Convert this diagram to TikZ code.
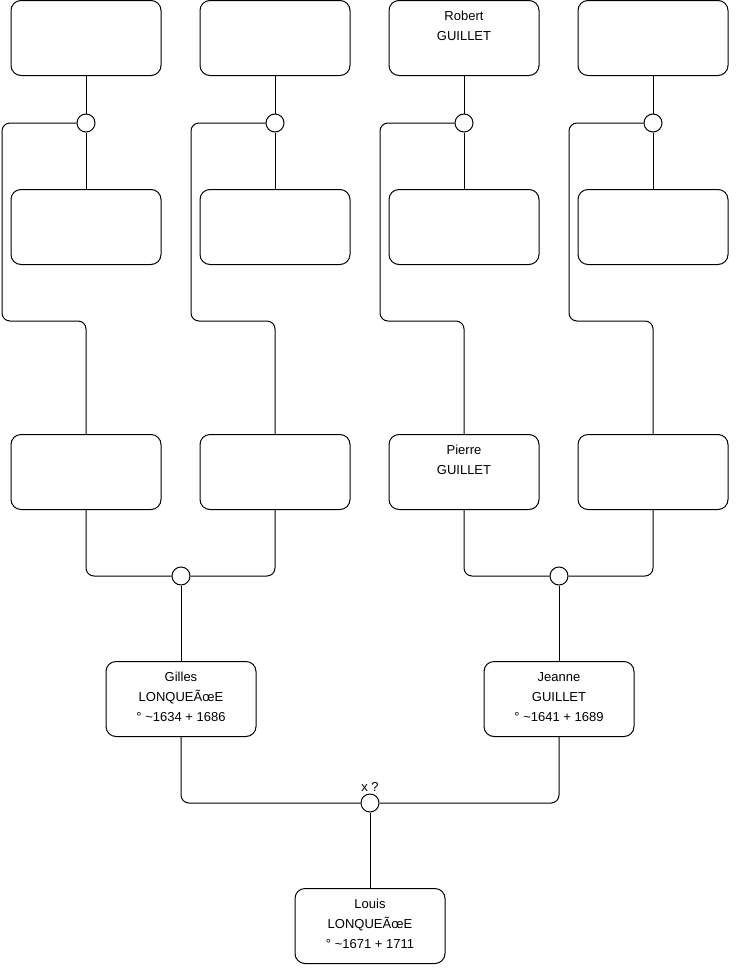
\documentclass[tikz,border=0pt]{standalone}
\usepackage{fontspec}
\setmainfont{Liberation Sans}
\usetikzlibrary{positioning}

\begin{document}
\begin{tikzpicture}[x=1pt,y=-1pt,line width=1pt,
  every node/.style={font=\fontsize{13}{20}\selectfont},
  person/.style={draw,rounded corners=10pt,minimum width=150pt,minimum height=75pt,inner sep=0pt},
  who/.style={label={[anchor=north,align=center,inner sep=0pt,yshift=-11pt]north:#1}},
  union/.style={draw,circle,fill=white,minimum size=18pt,inner sep=0pt},
  link/.style={rounded corners=8pt}]
\useasboundingbox (0,0) rectangle (740,975);
% great-grandparents, fathers and mothers
\node[person] (ggf1) at (86,38) {};
\node[person] (ggf2) at (275,38) {};
\node[person,who={Robert\\GUILLET}] (ggf3) at (464,38) {};
\node[person] (ggf4) at (653,38) {};
\node[person] (ggm1) at (86,227) {};
\node[person] (ggm2) at (275,227) {};
\node[person] (ggm3) at (464,227) {};
\node[person] (ggm4) at (653,227) {};
\node[union] (u1) at (86,123) {};
\node[union] (u2) at (275,123) {};
\node[union] (u3) at (464,123) {};
\node[union] (u4) at (653,123) {};
% grandparents
\node[person] (gp1) at (86,472) {};
\node[person] (gp2) at (275,472) {};
\node[person,who={Pierre\\GUILLET}] (gp3) at (464,472) {};
\node[person] (gp4) at (653,472) {};
\node[union] (uF) at (181,576) {};
\node[union] (uM) at (559,576) {};
% parents and child
\node[person,who={Gilles\\LONQUEÃœE\\° \textasciitilde1634 + 1686}] (gil) at (181,699) {};
\node[person,who={Jeanne\\GUILLET\\° \textasciitilde1641 + 1689}] (jea) at (559,699) {};
\node[union,label={[inner sep=2pt]above:x ?}] (uL) at (370,803) {};
\node[person,who={Louis\\LONQUEÃœE\\° \textasciitilde1671 + 1711}] (lou) at (370,926) {};
% couples
\foreach \i in {1,...,4}{
  \draw (ggf\i) -- (u\i) -- (ggm\i);
  \path (u\i) ++(-84,198) coordinate (s\i);
  \draw[link] (u\i.west) -| (s\i) -| (gp\i.north);
}
\draw[link] (gp1.south) |- (uF.west);
\draw[link] (gp2.south) |- (uF.east);
\draw[link] (gp3.south) |- (uM.west);
\draw[link] (gp4.south) |- (uM.east);
\draw (uF) -- (gil);
\draw (uM) -- (jea);
\draw[link] (gil.south) |- (uL.west);
\draw[link] (jea.south) |- (uL.east);
\draw (uL) -- (lou);
\end{tikzpicture}
\end{document}
